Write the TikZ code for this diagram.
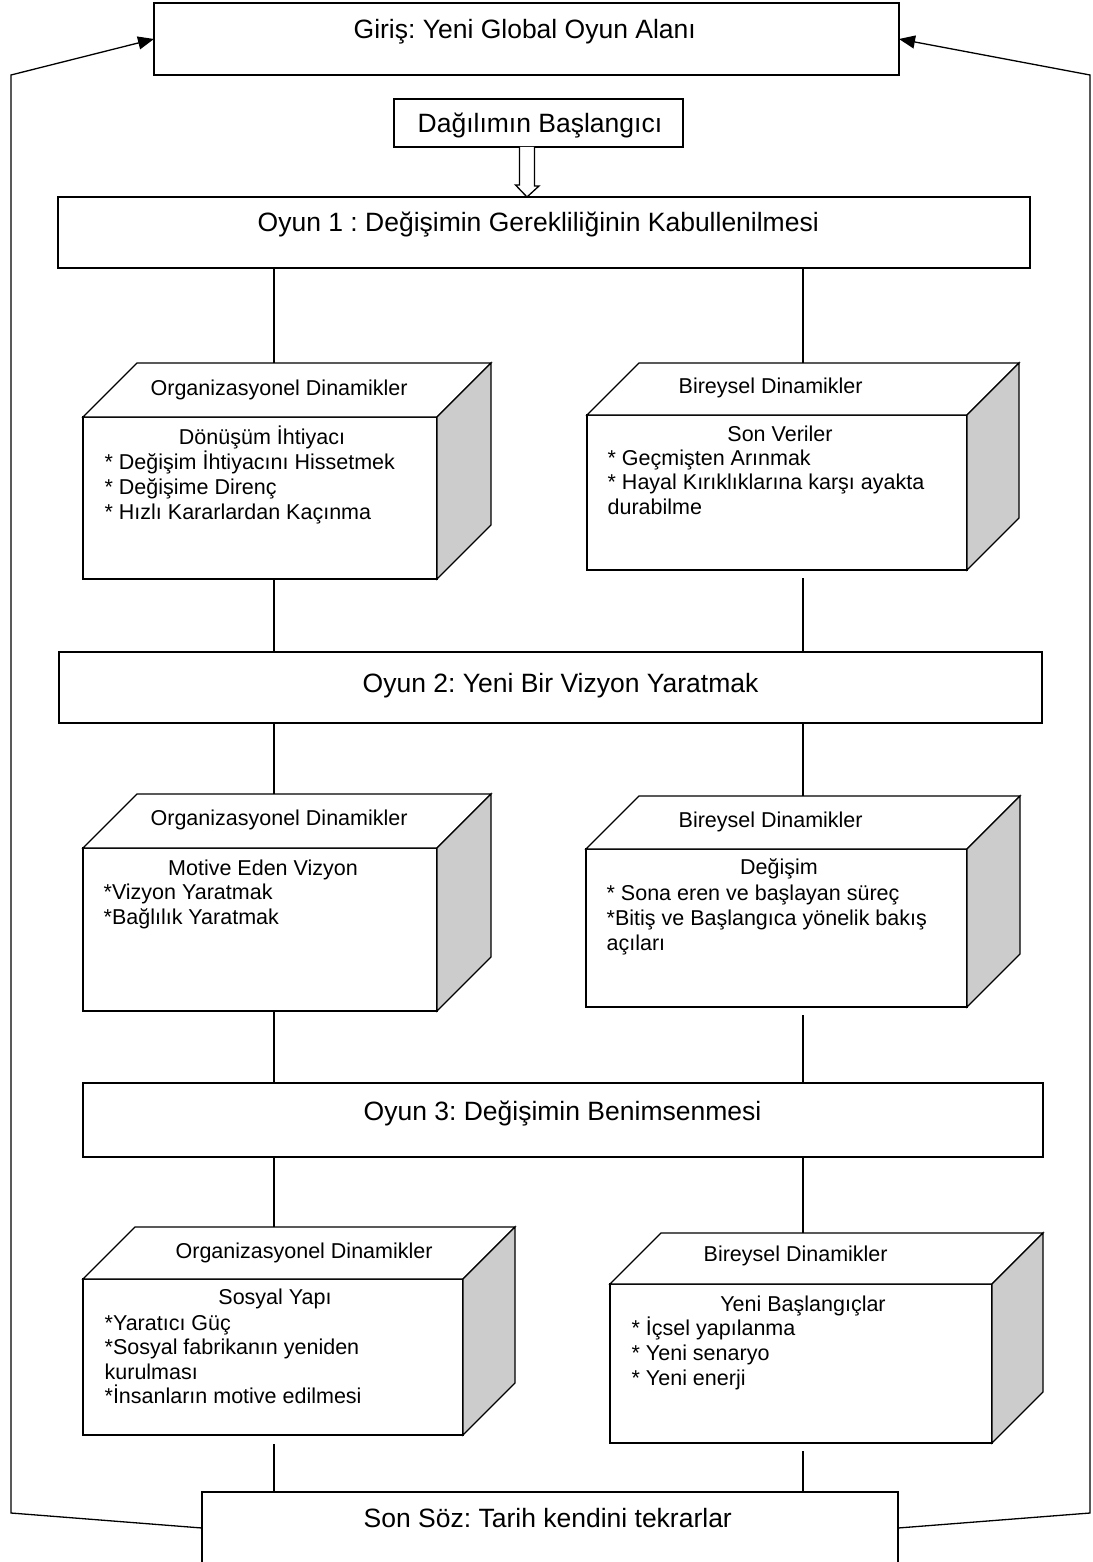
\documentclass[tikz,border=0pt]{standalone}
\usepackage{fontspec}
\setmainfont{Liberation Sans}
\usetikzlibrary{arrows.meta,calc}
\definecolor{sideface}{RGB}{204,204,204}
\frenchspacing

% a box drawn as a cube: front face node #1, corners (#2,#3)-(#4,#5), depth #6
\newcommand\cubeblock[6]{%
  \node[box, anchor=north west, minimum width={#4-#2}, minimum height={#5-#3}] (#1) at (#2,#3) {};
  \draw[fill=white] (#1.north west) -- ++(#6,-#6) -- ($(#1.north east)+(#6,-#6)$) -- (#1.north east) -- cycle;
  \draw[fill=sideface] (#1.north east) -- ++(#6,-#6) -- ($(#1.south east)+(#6,-#6)$) -- (#1.south east) -- cycle;
  \coordinate (#1-back) at ($(#1.north)+(0,-#6)$);
}

\begin{document}
\begin{tikzpicture}[x=1pt,y=-1pt,
  line width=1.3pt, line join=miter,
  box/.style={draw, rectangle, inner sep=0pt, outer sep=0pt, fill=white},
  titletext/.style={inner sep=0pt, font=\fontsize{26.5}{30}\selectfont, anchor=base west},
  headtext/.style={inner sep=0pt, font=\fontsize{21.5}{25}\selectfont, anchor=base west},
  bodytitle/.style={inner sep=0pt, font=\fontsize{21.5}{25}\selectfont, anchor=base},
  bodyline/.style={inner sep=0pt, font=\fontsize{21.5}{25}\selectfont, anchor=base west},
  loopback/.style={-{Triangle[length=16pt,width=13pt]}},
]
\useasboundingbox (0,0) rectangle (1092,1562);

% --- main stage boxes ---
\node[box, anchor=north west, minimum width=745, minimum height=72] (giris) at (154,3) {};
\node[titletext] (giristext) at (353,39) {Giriş: Yeni Global Oyun Alanı};

\node[box, anchor=north west, minimum width=289, minimum height=48] (dagilim) at (394,99) {};
\begin{scope}
  \clip (dagilim.north west) rectangle ($(dagilim.south east)+(0,-8)$);
  \node[titletext] (dagtext) at (417,133) {Dağılımın Başlangıcı};
\end{scope}

\node[box, anchor=north west, minimum width=972, minimum height=71] (oyun1) at (58,197) {};
\node[titletext] (oyun1text) at (257,232) {Oyun 1 : Değişimin Gerekliliğinin Kabullenilmesi};

\node[box, anchor=north west, minimum width=983, minimum height=71] (oyun2) at (59,652) {};
\node[titletext] (oyun2text) at (362,692) {Oyun 2: Yeni Bir Vizyon Yaratmak};

\node[box, anchor=north west, minimum width=960, minimum height=74] (oyun3) at (83,1083) {};
\node[titletext] (oyun3text) at (363,1120) {Oyun 3: Değişimin Benimsenmesi};

\node[box, anchor=north west, minimum width=696, minimum height=90] (sonsoz) at (202,1492) {};
\node[titletext] (sonsoztext) at (363,1527) {Son Söz: Tarih kendini tekrarlar};

% --- hollow arrow from the start box into the first stage ---
\coordinate (ax) at (527,0);
\draw[fill=white] ($(dagilim.south -| ax)+(-7.5,0)$) -- ++(0,38) -- ++(-4,0)
  -- (oyun1.north -| ax) -- ++(12,-11) -- ++(-4.5,0)
  -- ($(dagilim.south -| ax)+(7.5,0)$);

% --- dynamics cubes ---
\cubeblock{c1}{83}{417}{437}{579}{54}
\node[headtext] (c1head) at (150,395) {Organizasyonel Dinamikler};
\node[bodytitle] (c1title) at (262,444) {Dönüşüm İhtiyacı};
\foreach \t [count=\i] in {{* Değişim İhtiyacını Hissetmek},{* Değişime Direnç},{* Hızlı Kararlardan Kaçınma}}
  \node[bodyline] (c1l\i) at (104,{469+25*(\i-1)}) {\t};

\cubeblock{c2}{587}{415}{967}{570}{52}
\node[headtext] (c2head) at (678,393) {Bireysel Dinamikler};
\node[bodytitle] (c2title) at (780,441) {Son Veriler};
\foreach \t [count=\i] in {{* Geçmişten Arınmak},{* Hayal Kırıklıklarına karşı ayakta},{durabilme}}
  \node[bodyline] (c2l\i) at (607,{465+24.5*(\i-1)}) {\t};

\cubeblock{c3}{83}{848}{437}{1011}{54}
\node[headtext] (c3head) at (150,825) {Organizasyonel Dinamikler};
\node[bodytitle] (c3title) at (263,875) {Motive Eden Vizyon};
\foreach \t [count=\i] in {{*Vizyon Yaratmak},{*Bağlılık Yaratmak}}
  \node[bodyline] (c3l\i) at (103,{899+25*(\i-1)}) {\t};

\cubeblock{c4}{586}{849}{967}{1007}{53}
\node[headtext] (c4head) at (678,827) {Bireysel Dinamikler};
\node[bodytitle] (c4title) at (779,874) {Değişim};
\foreach \t [count=\i] in {{* Sona eren ve başlayan süreç},{*Bitiş ve Başlangıca yönelik bakış},{açıları}}
  \node[bodyline] (c4l\i) at (606,{900+25*(\i-1)}) {\t};

\cubeblock{c5}{83}{1279}{463}{1435}{52}
\node[headtext] (c5head) at (175,1258) {Organizasyonel Dinamikler};
\node[bodytitle] (c5title) at (275,1304) {Sosyal Yapı};
\foreach \t [count=\i] in {{*Yaratıcı Güç},{*Sosyal fabrikanın yeniden},{kurulması},{*İnsanların motive edilmesi}}
  \node[bodyline] (c5l\i) at (104,{1330+24.5*(\i-1)}) {\t};

\cubeblock{c6}{610}{1284}{992}{1443}{51}
\node[headtext] (c6head) at (703,1261) {Bireysel Dinamikler};
\node[bodytitle] (c6title) at (803,1311) {Yeni Başlangıçlar};
\foreach \t [count=\i] in {{* İçsel yapılanma},{* Yeni senaryo},{* Yeni enerji}}
  \node[bodyline] (c6l\i) at (631,{1335+25*(\i-1)}) {\t};

% --- vertical links between stages and cubes ---
\coordinate (lx) at (274,0);
\coordinate (rx) at (803,0);
\draw (oyun1.south -| lx) -- (c1-back -| lx);
\draw (oyun1.south -| rx) -- (c2-back -| rx);
\draw (c1.south -| lx) -- (oyun2.north -| lx);
\draw[shorten <=8pt] (c2.south -| rx) -- (oyun2.north -| rx);
\draw (oyun2.south -| lx) -- (c3-back -| lx);
\draw (oyun2.south -| rx) -- (c4-back -| rx);
\draw (c3.south -| lx) -- (oyun3.north -| lx);
\draw[shorten <=8pt] (c4.south -| rx) -- (oyun3.north -| rx);
\draw (oyun3.south -| lx) -- (c5-back -| lx);
\draw (oyun3.south -| rx) -- (c6-back -| rx);
\draw[shorten <=9pt] (c5.south -| lx) -- (sonsoz.north -| lx);
\draw[shorten <=8pt] (c6.south -| rx) -- (sonsoz.north -| rx);

% --- return paths from the closing box back to the opening box ---
\coordinate (lb) at (11,1513);
\coordinate (lt) at (11,75);
\coordinate (rb) at (1090,1513);
\coordinate (rt) at (1090,75);
\draw[loopback] ($(sonsoz.north west)+(0,36)$) -- (lb) -- (lt) -- (giris.west);
\draw[loopback] ($(sonsoz.north east)+(0,36)$) -- (rb) -- (rt) -- (giris.east);
\end{tikzpicture}
\end{document}
